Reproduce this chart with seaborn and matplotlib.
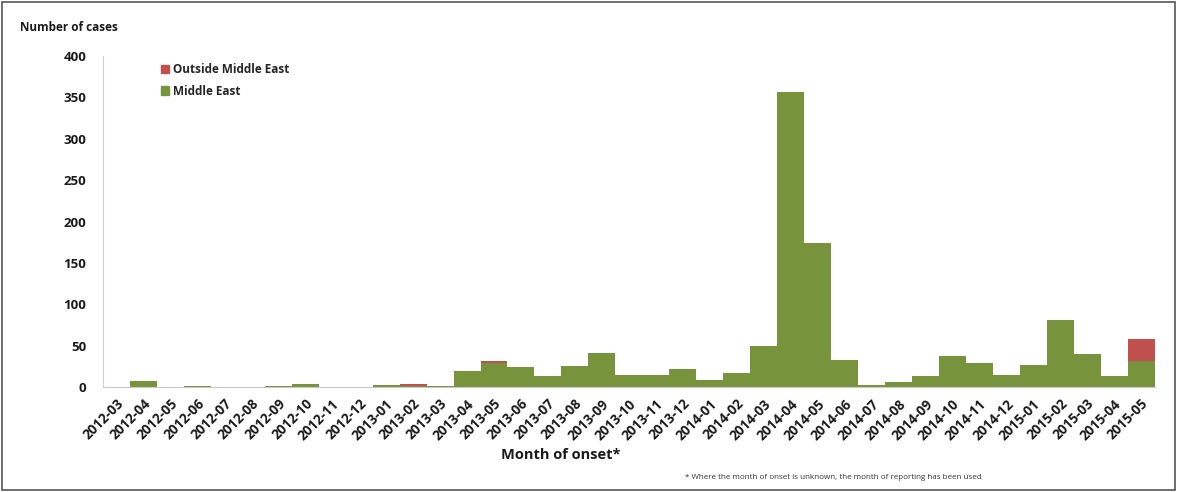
import matplotlib
matplotlib.use("Agg")
import matplotlib.pyplot as plt
import numpy as np
import pandas as pd
import seaborn as sns
from matplotlib.patches import Patch, Rectangle

months = ["2012-03", "2012-04", "2012-05", "2012-06", "2012-07", "2012-08", "2012-09",
          "2012-10", "2012-11", "2012-12", "2013-01", "2013-02", "2013-03", "2013-04",
          "2013-05", "2013-06", "2013-07", "2013-08", "2013-09", "2013-10", "2013-11",
          "2013-12", "2014-01", "2014-02", "2014-03", "2014-04", "2014-05", "2014-06",
          "2014-07", "2014-08", "2014-09", "2014-10", "2014-11", "2014-12", "2015-01",
          "2015-02", "2015-03", "2015-04", "2015-05"]
middle_east = [0, 7, 0, 1, 0, 0, 1, 4, 0, 0, 2, 1, 1, 19, 29, 24, 13, 25, 41, 14, 14,
               22, 8, 17, 49, 356, 174, 33, 3, 6, 13, 37, 29, 15, 26, 81, 40, 13, 32]
outside_me = [0, 0, 0, 0, 0, 0, 0, 0, 0, 0, 0, 3, 0, 0, 3, 0, 0, 0, 0, 0, 0,
              0, 0, 0, 0, 0, 0, 0, 0, 0, 0, 0, 0, 0, 0, 0, 0, 0, 26]

green = "#77933C"
red = "#C0504D"

df = pd.DataFrame({"month": months, "me": middle_east, "out": outside_me})
df["total"] = df["me"] + df["out"]

sns.set_style("white")
plt.rcParams["font.family"] = ["Open Sans", "DejaVu Sans"]

fig = plt.figure(figsize=(11.77, 4.92), dpi=100)
ax = fig.add_axes([0.0875, 0.2134, 0.8935, 0.6726])

# stacked: total in red underneath, Middle East in green on top of it
sns.barplot(data=df, x="month", y="total", color=red, width=1.0, saturation=1,
            linewidth=0, ax=ax)
sns.barplot(data=df, x="month", y="me", color=green, width=1.0, saturation=1,
            linewidth=0, ax=ax)

ax.set_xlim(-0.5, len(months) - 0.5)
ax.set_ylim(0, 400)
ax.set_yticks(np.arange(0, 401, 50))
ax.set_xlabel("")
ax.set_ylabel("")

for s in ["top", "right"]:
    ax.spines[s].set_visible(False)
ax.spines["left"].set_color("#d0d0d0")
ax.spines["bottom"].set_color("#c8c8c8")
ax.spines["left"].set_linewidth(0.8)
ax.spines["bottom"].set_linewidth(0.8)

ax.set_xticks(range(len(months)))
ax.set_xticklabels(months, rotation=45, ha="right", rotation_mode="anchor",
                   fontsize=9.8, fontweight="bold", color="#1a1a1a")
ax.tick_params(axis="x", length=0, pad=7)
ax.set_xticks(np.arange(-0.5, len(months), 1), minor=True)
ax.tick_params(axis="x", which="minor", length=4, color="#c8c8c8", width=0.8)
ax.tick_params(axis="y", length=4, color="#d0d0d0", width=0.8, labelsize=9.5,
               pad=8)
for lab in ax.get_yticklabels():
    lab.set_fontweight("bold")
    lab.set_color("#1a1a1a")

handles = [Patch(color=red, label="Outside Middle East"),
           Patch(color=green, label="Middle East")]
ax.legend(handles=handles, loc="upper left", bbox_to_anchor=(0.045, 1.01),
          frameon=False, handlelength=0.7, handleheight=0.7, handletextpad=0.3,
          labelspacing=0.7, prop={"weight": "bold", "size": 8.5})

fig.text(0.017, 0.945, "Number of cases", fontsize=8.5, fontweight="bold",
         ha="left", va="center", color="#1a1a1a")
fig.text(0.476, 0.075, "Month of onset*", fontsize=10.5, fontweight="bold",
         ha="center", va="center", color="#1a1a1a")
fig.text(0.582, 0.03, "* Where the month of onset is unknown, the month of reporting has been used",
         fontsize=5.8, ha="left", va="center", color="#333333")

fig.patches.append(Rectangle((0.002, 0.004), 0.996, 0.992, transform=fig.transFigure,
                             fill=False, edgecolor="#555555", linewidth=1.2))

fig.savefig("out.png", dpi=100)
